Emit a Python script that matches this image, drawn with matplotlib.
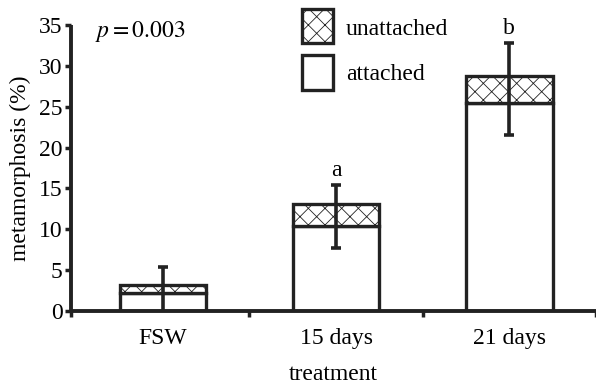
import matplotlib.pyplot as plt
from matplotlib.patches import Rectangle

plt.rcParams['font.family'] = ['Liberation Serif', 'DejaVu Serif']
plt.rcParams['mathtext.fontset'] = 'stix'
plt.rcParams['hatch.linewidth'] = 0.6
plt.rcParams['hatch.color'] = '#555555'

# data
treatments = ['FSW', '15 days', '21 days']
attached = [2.2, 10.4, 25.5]
unattached = [1.0, 2.7, 3.3]
err_lo = [-0.1, 7.7, 21.5]
err_hi = [5.4, 15.4, 32.8]
letters = ['', 'a', 'b']

fs = 17
ink = '#222222'
W, H = 596, 385
fig = plt.figure(figsize=(W / 100, H / 100), dpi=100)
ax = fig.add_axes([71 / W, (H - 311) / H, (W - 71) / W, 286 / H])

xs = [0.5, 1.5, 2.5]
w = 0.5
ax.bar(xs, attached, width=w, color='white', edgecolor=ink, linewidth=2.4, zorder=2)
ax.bar(xs, unattached, bottom=attached, width=w, color='white', edgecolor=ink,
       hatch='xx', linewidth=2.4, zorder=2)

for x, lo, hi, let in zip(xs, err_lo, err_hi, letters):
    ax.plot([x, x], [lo, hi], color=ink, lw=2.6, zorder=3, solid_capstyle='butt')
    for y in (lo, hi):
        ax.plot([x - 0.029, x + 0.029], [y, y], color=ink, lw=2.6, zorder=3,
                solid_capstyle='butt')
    if let:
        ax.text(x, hi + 1.1, let, ha='center', va='baseline', fontsize=fs)

ax.set_xlim(-0.03, 3)
ax.set_ylim(0, 35)
ax.set_yticks(range(0, 36, 5))
ax.set_xticks([-0.03, 1, 2, 3])
ax.set_xticklabels([])
ax.set_xticks(xs, minor=True)
ax.set_xticklabels(treatments, minor=True, fontsize=fs)
ax.tick_params(axis='x', which='minor', length=0, pad=12)
ax.tick_params(axis='x', which='major', length=4, width=2.5, color=ink)
ax.tick_params(axis='y', length=4, width=2.5, color=ink, labelsize=fs, pad=2)
for s in ['top', 'right']:
    ax.spines[s].set_visible(False)
for s in ['left', 'bottom']:
    ax.spines[s].set_linewidth(2.8)
    ax.spines[s].set_color(ink)
    ax.spines[s].set_capstyle('butt')

ax.set_ylabel('metamorphosis (%)', fontsize=fs, labelpad=6)
ax.set_xlabel('treatment', fontsize=fs, labelpad=11)

fig.text(95 / W, 1 - 37 / H, r'$p = 0.003$', fontsize=fs, va='baseline')

# legend drawn by hand, pixel positions from the top left
for (y0, y1), base, label, h in [((9, 43), 35, 'unattached', 'xx'),
                                 ((55, 90), 80, 'attached', None)]:
    fig.patches.append(Rectangle((302 / W, 1 - y1 / H), 31 / W, (y1 - y0) / H,
                                 transform=fig.transFigure, facecolor='white',
                                 edgecolor=ink, hatch=h, linewidth=2.4))
    fig.text(346 / W, 1 - base / H, label, fontsize=fs, va='baseline')

fig.savefig('out.png', dpi=100)
